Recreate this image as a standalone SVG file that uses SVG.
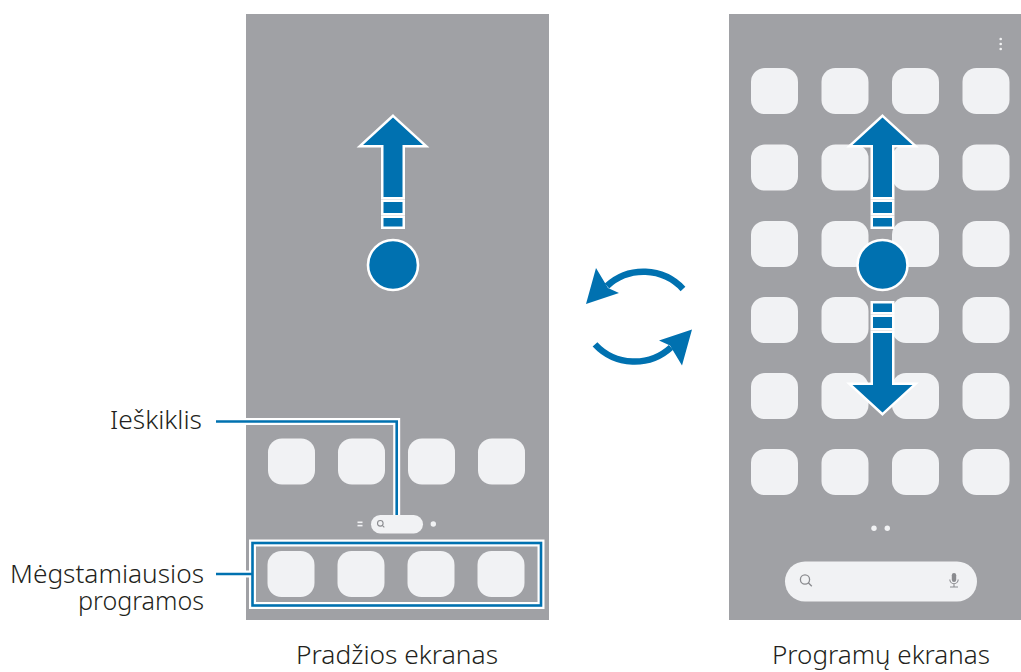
<svg xmlns="http://www.w3.org/2000/svg" xmlns:xlink="http://www.w3.org/1999/xlink" width="1021" height="672" viewBox="0 0 1021 672">
<style>
.screen{fill:#a0a1a5}
.icon{fill:#f1f2f4}
.lbl{font-family:"Noto Sans","Liberation Sans",sans-serif;font-size:26px;font-weight:300;fill:#231f20}
.blue{fill:#0071b0}
.outline{fill:#ffffff;stroke:#ffffff;stroke-width:5;stroke-linejoin:miter}
.conW{fill:none;stroke:#ffffff;stroke-width:7}
.conB{fill:none;stroke:#0071b0;stroke-width:2.6}
.rot{fill:none;stroke:#0071b0;stroke-width:6.5}
</style>
<defs>
<g id="upArrow">
<path d="M393,117.5 L423,145 L402.5,145 L402.5,197 L383.5,197 L383.5,145 L363,145 Z"/>
<rect x="383.5" y="202" width="19" height="11"/>
<rect x="383.5" y="218" width="19" height="8.5"/>
</g>
<g id="rotHalf">
<path class="rot" d="M683,289 A54,54 0 0 0 607,286"/>
<polygon class="blue" points="596,268 586,304 619,293 608,288"/>
</g>
<rect id="ic" width="47" height="46" rx="14"/>
</defs>

<g id="home-screen">
<rect class="screen" x="246" y="14" width="303" height="606"/>
<g class="icon">
<use xlink:href="#ic" x="268" y="438.5"/>
<use xlink:href="#ic" x="338" y="438.5"/>
<use xlink:href="#ic" x="408" y="438.5"/>
<use xlink:href="#ic" x="478" y="438.5"/>
<use xlink:href="#ic" x="267.5" y="551"/>
<use xlink:href="#ic" x="337.5" y="551"/>
<use xlink:href="#ic" x="407.5" y="551"/>
<use xlink:href="#ic" x="477.5" y="551"/>
</g>
<rect x="357.5" y="521.5" width="5" height="1.6" fill="#f1f2f4"/>
<rect x="357.5" y="524.8" width="5" height="1.6" fill="#f1f2f4"/>
<rect x="371" y="515" width="52" height="18.5" rx="9.25" fill="#f1f2f4"/>
<circle cx="380.3" cy="523.3" r="2.8" fill="none" stroke="#8a8b8f" stroke-width="1.1"/>
<line x1="382.3" y1="525.3" x2="384.3" y2="527.3" stroke="#8a8b8f" stroke-width="1.1"/>
<circle cx="433.3" cy="524" r="2.7" fill="#f1f2f4"/>
</g>

<g id="home-gesture">
<use xlink:href="#upArrow" class="outline"/>
<use xlink:href="#upArrow" class="blue"/>
<circle cx="393" cy="265" r="25" class="blue" stroke="#ffffff" stroke-width="2.6"/>
</g>

<g id="apps-screen">
<rect class="screen" x="729" y="14" width="292" height="606"/>
<g fill="#f1f2f4">
<circle cx="1000.7" cy="39" r="1.3"/>
<circle cx="1000.7" cy="44" r="1.3"/>
<circle cx="1000.7" cy="49" r="1.3"/>
</g>
<g class="icon">
<use xlink:href="#ic" x="751" y="68"/><use xlink:href="#ic" x="821.5" y="68"/><use xlink:href="#ic" x="892" y="68"/><use xlink:href="#ic" x="962.5" y="68"/>
<use xlink:href="#ic" x="751" y="144.5"/><use xlink:href="#ic" x="821.5" y="144.5"/><use xlink:href="#ic" x="892" y="144.5"/><use xlink:href="#ic" x="962.5" y="144.5"/>
<use xlink:href="#ic" x="751" y="221"/><use xlink:href="#ic" x="821.5" y="221"/><use xlink:href="#ic" x="892" y="221"/><use xlink:href="#ic" x="962.5" y="221"/>
<use xlink:href="#ic" x="751" y="297"/><use xlink:href="#ic" x="821.5" y="297"/><use xlink:href="#ic" x="892" y="297"/><use xlink:href="#ic" x="962.5" y="297"/>
<use xlink:href="#ic" x="751" y="373"/><use xlink:href="#ic" x="821.5" y="373"/><use xlink:href="#ic" x="892" y="373"/><use xlink:href="#ic" x="962.5" y="373"/>
<use xlink:href="#ic" x="751" y="449"/><use xlink:href="#ic" x="821.5" y="449"/><use xlink:href="#ic" x="892" y="449"/><use xlink:href="#ic" x="962.5" y="449"/>
</g>
<circle cx="874" cy="528.3" r="2.7" fill="#f1f2f4"/>
<circle cx="887.3" cy="528.3" r="2.7" fill="#f1f2f4"/>
<rect x="785" y="561.5" width="192" height="40" rx="20" fill="#f1f2f4"/>
<circle cx="805" cy="579.5" r="4.6" fill="none" stroke="#8a8b8f" stroke-width="1.3"/>
<line x1="808.3" y1="582.8" x2="811.8" y2="586.3" stroke="#8a8b8f" stroke-width="1.3"/>
<rect x="951.8" y="573" width="4.4" height="9" rx="2.2" fill="#8a8b8f"/>
<path d="M949.8,579.5 A4.2,4.2 0 0 0 958.2,579.5 M954,583.7 L954,586.5 M950,587 L958,587" fill="none" stroke="#8a8b8f" stroke-width="1.1"/>
</g>

<g id="apps-gesture">
<g transform="translate(489.5,0)">
<use xlink:href="#upArrow" class="outline"/>
<use xlink:href="#upArrow" class="blue"/>
</g>
<g transform="translate(489.5,530) scale(1,-1)">
<use xlink:href="#upArrow" class="outline"/>
<use xlink:href="#upArrow" class="blue"/>
</g>
<circle cx="882.5" cy="265" r="25" class="blue" stroke="#ffffff" stroke-width="2.6"/>
</g>

<g id="switch-arrows">
<use xlink:href="#rotHalf"/>
<use xlink:href="#rotHalf" transform="rotate(180 639 316.7)"/>
</g>

<g id="connectors">
<path class="conW" d="M216,421.5 L396.7,421.5 L396.7,515"/>
<path class="conW" d="M216,574 L252.5,574"/>
<rect class="conW" x="252.5" y="543" width="288.5" height="62.5"/>
<path class="conB" d="M216,421.5 L396.7,421.5 L396.7,515"/>
<path class="conB" d="M216,574 L252.5,574"/>
<rect class="conB" x="252.5" y="543" width="288.5" height="62.5"/>
</g>

<g id="labels">
<text class="lbl" x="202" y="428.5" text-anchor="end" textLength="92" lengthAdjust="spacingAndGlyphs">Ieškiklis</text>
<text class="lbl" x="204" y="582.5" text-anchor="end" textLength="194" lengthAdjust="spacingAndGlyphs">Mėgstamiausios</text>
<text class="lbl" x="204" y="609.5" text-anchor="end" textLength="126" lengthAdjust="spacingAndGlyphs">programos</text>
<text class="lbl" x="397" y="663.5" text-anchor="middle" textLength="202" lengthAdjust="spacingAndGlyphs">Pradžios ekranas</text>
<text class="lbl" x="881" y="663.5" text-anchor="middle" textLength="218" lengthAdjust="spacingAndGlyphs">Programų ekranas</text>
</g>
</svg>
